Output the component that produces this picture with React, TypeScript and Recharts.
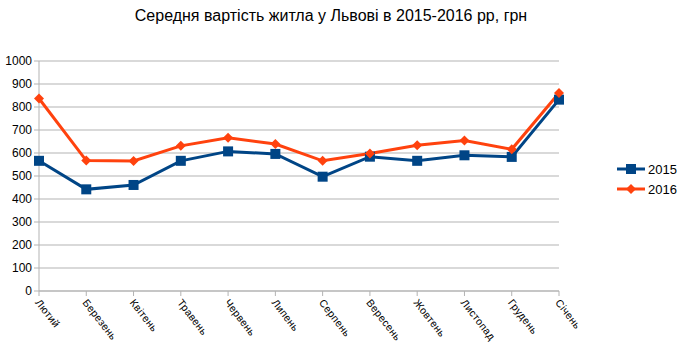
import { CartesianGrid, Line, LineChart, XAxis, YAxis } from "recharts";

const months = [
  "Лютий",
  "Березень",
  "Квітень",
  "Травень",
  "Червень",
  "Липень",
  "Серпень",
  "Вересень",
  "Жовтень",
  "Листопад",
  "Грудень",
  "Січень",
];
const values2015 = [566, 442, 461, 566, 607, 596, 497, 584, 566, 590, 583, 832];
const values2016 = [837, 567, 565, 631, 666, 639, 566, 598, 634, 654, 616, 861];
const yTicks = [0, 100, 200, 300, 400, 500, 600, 700, 800, 900, 1000];

const COLOR_2015 = "#004586";
const COLOR_2016 = "#ff420e";
const FONT = "'Liberation Sans', Arial, sans-serif";

const data = months.map((m, i) => ({ month: m, y2015: values2015[i], y2016: values2016[i] }));

function SquareDot(props: any) {
  const { cx, cy } = props;
  if (cx == null || cy == null) return null;
  return <rect x={cx - 5} y={cy - 5} width={10} height={10} fill={COLOR_2015} />;
}

function DiamondDot(props: any) {
  const { cx, cy } = props;
  if (cx == null || cy == null) return null;
  return (
    <polygon
      points={`${cx},${cy - 5} ${cx + 5},${cy} ${cx},${cy + 5} ${cx - 5},${cy}`}
      fill={COLOR_2016}
    />
  );
}

function MonthTick(props: any) {
  const { x, y, payload } = props;
  return (
    <g transform={`translate(${x - 2},${y + 3})`}>
      <text
        transform="rotate(52)"
        textAnchor="start"
        dominantBaseline="middle"
        fontSize={10.5}
        letterSpacing={0.3}
        fontFamily={FONT}
        fill="#000"
      >
        {payload.value}
      </text>
    </g>
  );
}

function ChartLegend() {
  const items = [
    { label: "2015", color: COLOR_2015, square: true },
    { label: "2016", color: COLOR_2016, square: false },
  ];
  return (
    <div style={{ position: "absolute", left: 617, top: 159 }}>
      {items.map((it) => (
        <div key={it.label} style={{ display: "flex", alignItems: "center", height: 20 }}>
          <svg width={30} height={12}>
            <line x1={0} y1={6} x2={28} y2={6} stroke={it.color} strokeWidth={3} />
            {it.square ? (
              <rect x={9} y={1} width={10} height={10} fill={it.color} />
            ) : (
              <polygon points="14,1 19,6 14,11 9,6" fill={it.color} />
            )}
          </svg>
          <span style={{ fontFamily: FONT, fontSize: 13, color: "#000", marginLeft: 1 }}>
            {it.label}
          </span>
        </div>
      ))}
    </div>
  );
}

export default function App() {
  return (
    <div
      style={{
        position: "absolute",
        left: 0,
        top: 0,
        width: 687,
        height: 355,
        background: "#fff",
      }}
    >
      <div
        style={{
          position: "absolute",
          top: 7,
          left: 0,
          width: 662,
          textAlign: "center",
          fontFamily: FONT,
          fontSize: 16,
          color: "#000",
        }}
      >
        Середня вартість житла у Львові в 2015-2016 рр, грн
      </div>
      <LineChart
        width={687}
        height={355}
        data={data}
        margin={{ top: 61, right: 128, left: 0, bottom: 0 }}
      >
        <CartesianGrid stroke="#b3b3b3" vertical={false} />
        <XAxis
          dataKey="month"
          tick={<MonthTick />}
          tickLine={{ stroke: "#b3b3b3" }}
          tickSize={5}
          axisLine={{ stroke: "#b3b3b3" }}
          interval={0}
          height={64}
        />
        <YAxis
          domain={[0, 1000]}
          ticks={yTicks}
          interval={0}
          width={39}
          tick={{ fill: "#000", fontSize: 12, fontFamily: FONT }}
          tickLine={{ stroke: "#b3b3b3" }}
          tickSize={5}
          tickMargin={2}
          axisLine={{ stroke: "#b3b3b3" }}
        />
        <YAxis
          yAxisId="right"
          orientation="right"
          width={0}
          tick={false}
          tickLine={false}
          axisLine={{ stroke: "#b3b3b3" }}
        />
        <Line
          dataKey="y2015"
          stroke={COLOR_2015}
          strokeWidth={3}
          dot={<SquareDot />}
          activeDot={false}
          isAnimationActive={false}
        />
        <Line
          dataKey="y2016"
          stroke={COLOR_2016}
          strokeWidth={3}
          dot={<DiamondDot />}
          activeDot={false}
          isAnimationActive={false}
        />
      </LineChart>
      <ChartLegend />
    </div>
  );
}
